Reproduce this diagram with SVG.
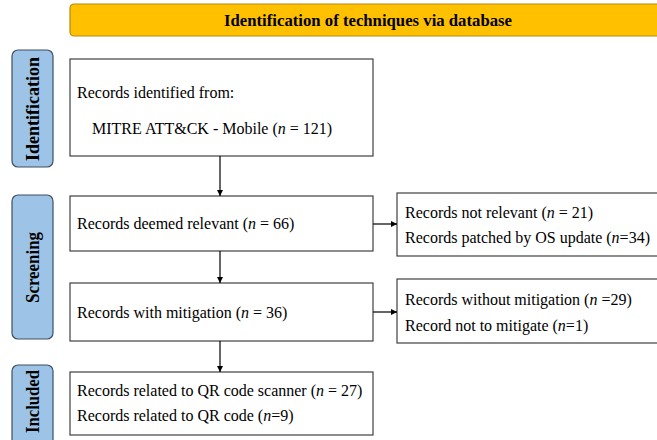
<svg xmlns="http://www.w3.org/2000/svg" width="657" height="440" viewBox="0 0 657 440">
  <defs>
    <style>
      .box { fill: #ffffff; stroke: #404040; stroke-width: 1.2; }
      .phase { fill: #9dc3e6; stroke: #3f4f63; stroke-width: 1.2; }
      text { font-family: 'Liberation Serif', 'Times New Roman', Tinos, 'DejaVu Serif', serif; fill: #000; }
      .t { font-size: 16px; }
      .ph { font-size: 18px; font-weight: bold; }
      .head { font-size: 17.5px; font-weight: bold; }
      .link { stroke: #000; stroke-width: 1.2; fill: none; marker-end: url(#arrow); }
    </style>
    <marker id="arrow" viewBox="0 0 10 10" refX="10" refY="5" markerWidth="6" markerHeight="6" orient="auto" markerUnits="userSpaceOnUse">
      <path d="M0,0 L10,5 L0,10 z" fill="#000"/>
    </marker>
  </defs>
  <rect width="657" height="440" fill="#ffffff"/>

  <!-- header bar -->
  <g id="header">
    <rect x="70" y="4" width="600" height="32" rx="4" fill="#ffc000" stroke="#b58a10" stroke-width="1.2"/>
    <text class="head" x="368" y="26" text-anchor="middle" textLength="288" lengthAdjust="spacingAndGlyphs">Identification of techniques via database</text>
  </g>

  <!-- phase labels -->
  <g id="phase-identification">
    <rect class="phase" x="12" y="50" width="41" height="117" rx="6"/>
    <text class="ph" transform="translate(39,109) rotate(-90)" text-anchor="middle" textLength="104" lengthAdjust="spacingAndGlyphs">Identification</text>
  </g>
  <g id="phase-screening">
    <rect class="phase" x="12" y="195" width="41" height="144" rx="6"/>
    <text class="ph" transform="translate(39,267.5) rotate(-90)" text-anchor="middle" textLength="71" lengthAdjust="spacingAndGlyphs">Screening</text>
  </g>
  <g id="phase-included">
    <rect class="phase" x="12" y="365" width="41" height="85" rx="6"/>
    <text class="ph" transform="translate(39,401.5) rotate(-90)" text-anchor="middle" textLength="63" lengthAdjust="spacingAndGlyphs">Included</text>
  </g>

  <!-- records boxes -->
  <g id="identified">
    <rect class="box" x="70" y="59" width="303" height="97"/>
    <text class="t" x="77" y="98">Records identified from:</text>
    <text class="t" x="92" y="134">MITRE ATT&amp;CK - Mobile (<tspan font-style="italic">n</tspan> = 121)</text>
  </g>
  <g id="relevant">
    <rect class="box" x="70" y="196" width="303" height="55"/>
    <text class="t" x="77" y="229">Records deemed relevant (<tspan font-style="italic">n</tspan> = 66)</text>
  </g>
  <g id="excluded-relevance">
    <rect class="box" x="397" y="193" width="270" height="63"/>
    <text class="t" x="405" y="218">Records not relevant (<tspan font-style="italic">n</tspan> = 21)</text>
    <text class="t" x="405" y="243">Records patched by OS update (<tspan font-style="italic">n</tspan>=34)</text>
  </g>
  <g id="mitigation">
    <rect class="box" x="70" y="283" width="303" height="58"/>
    <text class="t" x="77" y="318">Records with mitigation (<tspan font-style="italic">n</tspan> = 36)</text>
  </g>
  <g id="excluded-mitigation">
    <rect class="box" x="397" y="279" width="270" height="64"/>
    <text class="t" x="405" y="305">Records without mitigation (<tspan font-style="italic">n</tspan> =29)</text>
    <text class="t" x="405" y="331">Record not to mitigate (<tspan font-style="italic">n</tspan>=1)</text>
  </g>
  <g id="included">
    <rect class="box" x="70" y="372" width="303" height="63"/>
    <text class="t" x="77" y="396">Records related to QR code scanner (<tspan font-style="italic">n</tspan> = 27)</text>
    <text class="t" x="77" y="421">Records related to QR code (<tspan font-style="italic">n</tspan>=9)</text>
  </g>

  <!-- connectors -->
  <g id="connectors">
    <line class="link" x1="220" y1="156" x2="220" y2="196"/>
    <line class="link" x1="220" y1="251" x2="220" y2="283"/>
    <line class="link" x1="220" y1="341" x2="220" y2="372"/>
    <line class="link" x1="373" y1="224" x2="397" y2="224"/>
    <line class="link" x1="373" y1="312" x2="397" y2="312"/>
  </g>
</svg>
